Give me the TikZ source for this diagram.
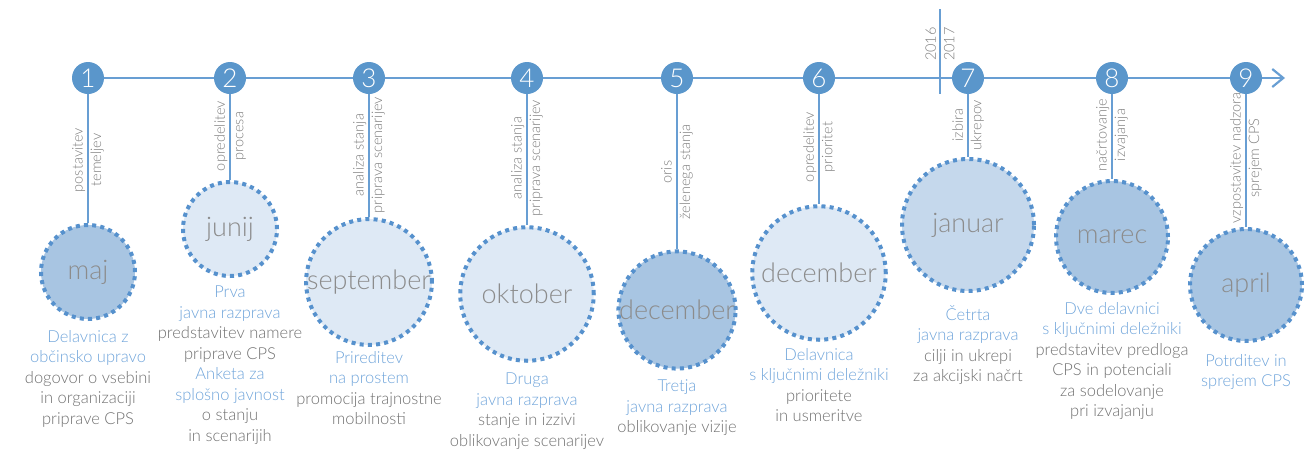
\documentclass[tikz,border=0pt]{standalone}
\usepackage{fontspec}
\setmainfont{Lato}[UprightFont=* Light]
\usetikzlibrary{arrows.meta,positioning}
\definecolor{lineblue}{RGB}{104,158,211}
\definecolor{numblue}{RGB}{90,150,203}
\definecolor{dotblue}{RGB}{86,145,205}
\definecolor{filldark}{RGB}{168,197,226}
\definecolor{fillmid}{RGB}{197,216,236}
\definecolor{filllight}{RGB}{222,233,245}
\definecolor{textblue}{RGB}{111,164,218}
\definecolor{textgray}{RGB}{112,112,112}
\definecolor{monthgray}{RGB}{140,140,140}
\newcommand{\evt}[1]{\textcolor{textblue}{#1}}

\begin{document}
\begin{tikzpicture}[x=1pt, y=-1pt,
    num/.style={circle, fill=numblue, minimum size=32pt, inner sep=0pt,
                text=white, font=\fontsize{26}{26}\selectfont},
    month/.style={circle, draw=dotblue, line width=4pt, dash pattern=on 4pt off 4.2pt,
                  inner sep=0pt, text=monthgray, font=\fontsize{27}{27}\selectfont},
    phase/.style={rotate=90, align=center, text=textgray!90, inner sep=0pt,
                  font=\fontsize{14.5}{18.5}\selectfont},
    desc/.style={anchor=north, align=center, text=textgray, inner sep=0pt,
                 font=\fontsize{16.5}{20.5}\selectfont},
    link/.style={draw=lineblue, line width=2pt}
]
\useasboundingbox (0,0) rectangle (1316,453);

% Timeline
\coordinate (start) at (88,78);
\coordinate (end) at (1285,78);
\draw[link, line width=2.2pt, -{Straight Barb[length=11pt, width=18pt]}] (start) -- (end);

% Year change
\coordinate (ytop) at (940,9);
\coordinate (ybot) at (940,94);
\draw[link] (ytop) -- (ybot);
\node[phase] (year) at (940,44) {2016\\2017};

% Steps
\node[num] (num1) at (88,78) {1};
\node[num] (num2) at (230,78) {2};
\node[num] (num3) at (369,78) {3};
\node[num] (num4) at (527,78) {4};
\node[num] (num5) at (677,78) {5};
\node[num] (num6) at (819,78) {6};
\node[num] (num7) at (968,78) {7};
\node[num] (num8) at (1112,78) {8};
\node[num] (num9) at (1246,78) {9};

% Months
\node[month, fill=filldark, minimum size=94pt] (maj) at (88,272) {maj};
\node[month, fill=filllight, minimum size=94pt] (junij) at (230,229) {junij};
\node[month, fill=filllight, minimum size=124pt] (sep) at (369,282) {september};
\node[month, fill=filllight, minimum size=133.5pt] (okt) at (527,294) {oktober};
\node[month, fill=filldark, minimum size=112pt] (decA) at (677,310) {december};
\node[month, fill=filllight, minimum size=133.5pt] (decB) at (819,273) {december};
\node[month, fill=fillmid, minimum size=132pt] (jan) at (968,225) {januar};
\node[month, fill=filldark, minimum size=112pt] (mar) at (1112,237) {marec};
\node[month, fill=filldark, minimum size=112pt] (apr) at (1246,285) {april};

% Drops
\draw[link] (num1) -- (maj);
\draw[link] (num2) -- (junij);
\draw[link] (num3) -- (sep);
\draw[link] (num4) -- (okt);
\draw[link] (num5) -- (decA);
\draw[link] (num6) -- (decB);
\draw[link] (num7) -- (jan);
\draw[link] (num8) -- (mar);
\draw[link] (num9) -- (apr);

% Phases
\node[phase] (ph1) at (88,160) {postavitev\\temeljev};
\node[phase] (ph2) at (230,136) {opredelitev\\procesa};
\node[phase] (ph3) at (369,155) {analiza stanja\\priprava scenarijev};
\node[phase] (ph4) at (527,158) {analiza stanja\\priprava scenarijev};
\node[phase] (ph5) at (677,172) {oris\\želenega stanja};
\node[phase] (ph6) at (819,147) {opredelitev\\prioritet};
\node[phase] (ph7) at (968,125) {izbira\\ukrepov};
\node[phase] (ph8) at (1112,135) {načrtovanje\\izvajanja};
\node[phase] (ph9) at (1246,158) {vzpostavitev nadzora\\sprejem CPS};

% Events
\node[desc] (ev1) at (88,330) {\evt{Delavnica z}\\\evt{občinsko upravo}\\dogovor o vsebini\\in organizaciji\\priprave CPS};
\node[desc] (ev2) at (230,286) {\evt{Prva}\\\evt{javna razprava}\\predstavitev namere\\priprave CPS\\\evt{Anketa za}\\\evt{splošno javnost}\\o stanju\\in scenarijih};
\node[desc] (ev3) at (369,351) {\evt{Prireditev}\\\evt{na prostem}\\promocija trajnostne\\mobilnosti};
\node[desc] (ev4) at (527,373) {\evt{Druga}\\\evt{javna razprava}\\stanje in izzivi\\oblikovanje scenarijev};
\node[desc] (ev5) at (677,380) {\evt{Tretja}\\\evt{javna razprava}\\oblikovanje vizije};
\node[desc] (ev6) at (819,348) {\evt{Delavnica}\\\evt{s ključnimi deležniki}\\prioritete\\in usmeritve};
\node[desc] (ev7) at (968,305) {\evt{Četrta}\\\evt{javna razprava}\\cilji in ukrepi\\za akcijski načrt};
\node[desc] (ev8) at (1112,302) {\evt{Dve delavnici}\\\evt{s ključnimi deležniki}\\predstavitev predloga\\CPS in potenciali\\za sodelovanje\\pri izvajanju};
\node[desc] (ev9) at (1246,354) {\evt{Potrditev in}\\\evt{sprejem CPS}};

\end{tikzpicture}
\end{document}
